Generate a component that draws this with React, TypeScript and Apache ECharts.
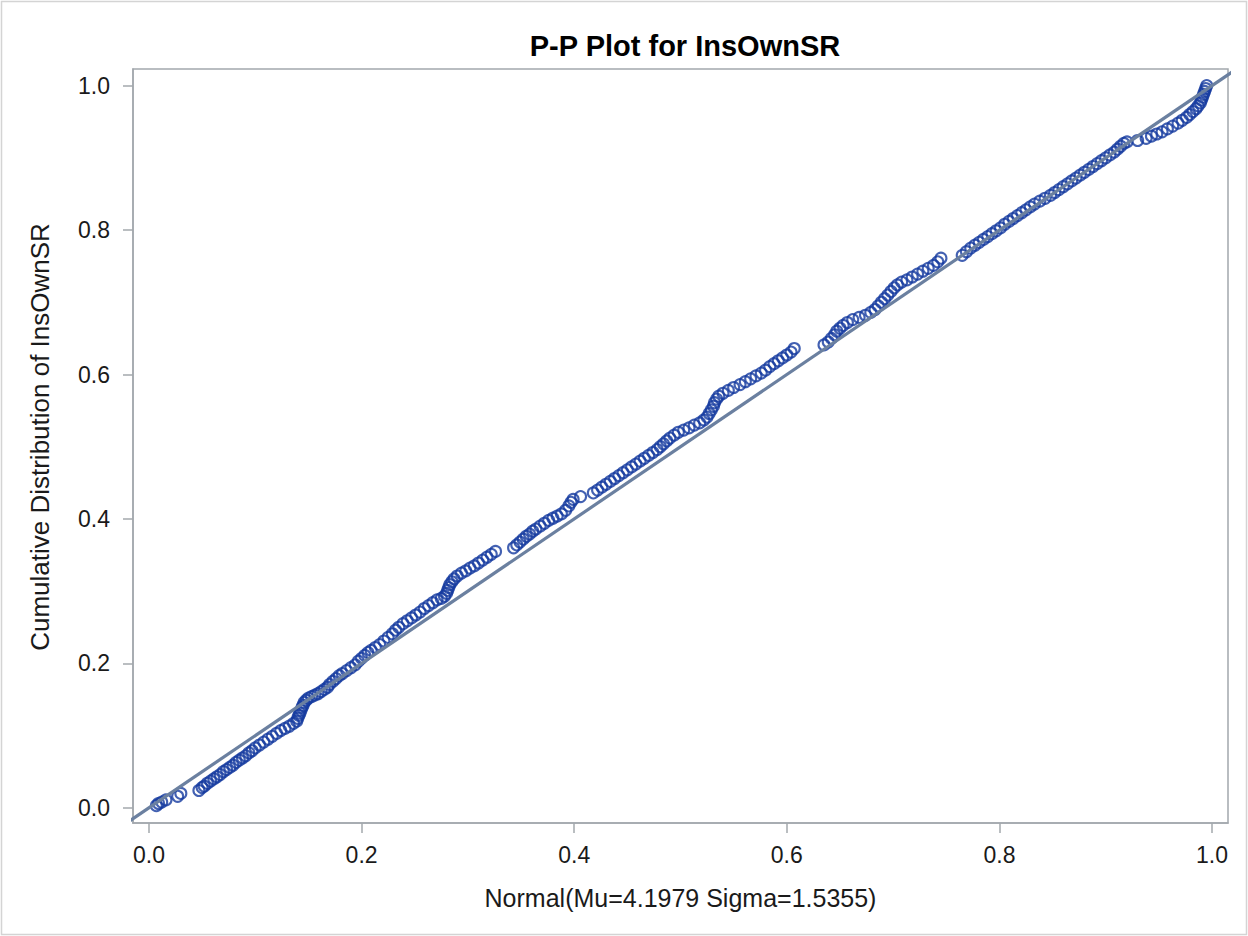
import React, { useEffect, useRef } from "react";
import * as echarts from "echarts";

// P-P plot of InsOwnSR against a fitted normal distribution.
// Each pair is [theoretical CDF, empirical CDF].
const ppLow: [number, number][] = [
  [0.007, 0.003], [0.009, 0.006], [0.012, 0.008], [0.016, 0.011], [0.027, 0.016], [0.030, 0.020],
  [0.047, 0.024], [0.050, 0.028], [0.052, 0.030],
  [0.055, 0.034], [0.058, 0.037], [0.061, 0.040], [0.064, 0.043], [0.067, 0.046], [0.070, 0.050],
  [0.073, 0.053], [0.076, 0.056], [0.079, 0.059], [0.082, 0.063], [0.085, 0.066], [0.088, 0.069],
  [0.091, 0.072], [0.094, 0.076], [0.097, 0.079], [0.100, 0.083], [0.104, 0.087], [0.108, 0.091],
  [0.112, 0.095], [0.116, 0.099], [0.120, 0.103], [0.124, 0.107], [0.128, 0.110], [0.132, 0.113],
  [0.136, 0.117], [0.139, 0.120],
  [0.140, 0.124], [0.141, 0.128], [0.142, 0.131], [0.143, 0.135], [0.144, 0.139], [0.145, 0.142],
  [0.146, 0.146], [0.148, 0.149],
];

const ppMidLow: [number, number][] = [
  [0.150, 0.152], [0.153, 0.154], [0.156, 0.156], [0.159, 0.158], [0.162, 0.161], [0.165, 0.164],
  [0.168, 0.167], [0.170, 0.171], [0.173, 0.175], [0.176, 0.179], [0.179, 0.183], [0.182, 0.186],
  [0.186, 0.190], [0.190, 0.194], [0.194, 0.198], [0.197, 0.203], [0.200, 0.207], [0.203, 0.211],
  [0.206, 0.215], [0.209, 0.218], [0.213, 0.222], [0.217, 0.226], [0.221, 0.231], [0.225, 0.236],
  [0.229, 0.241], [0.232, 0.246], [0.235, 0.250], [0.239, 0.255], [0.243, 0.259], [0.247, 0.263],
  [0.251, 0.267], [0.255, 0.271], [0.259, 0.276], [0.263, 0.280], [0.267, 0.284], [0.271, 0.288],
  [0.275, 0.290], [0.278, 0.293], [0.280, 0.297], [0.281, 0.301], [0.282, 0.305], [0.283, 0.309],
  [0.285, 0.313], [0.287, 0.317], [0.290, 0.321], [0.294, 0.325], [0.298, 0.328], [0.302, 0.332],
  [0.306, 0.335], [0.310, 0.339], [0.314, 0.343], [0.318, 0.347], [0.322, 0.351], [0.326, 0.355],
  [0.343, 0.360], [0.346, 0.364], [0.349, 0.368], [0.352, 0.372], [0.355, 0.376], [0.358, 0.379],
  [0.361, 0.383], [0.364, 0.386], [0.368, 0.390], [0.372, 0.394], [0.376, 0.398], [0.380, 0.401],
  [0.384, 0.404], [0.388, 0.407], [0.392, 0.412], [0.395, 0.418], [0.397, 0.423], [0.399, 0.427],
];

const ppMidHigh: [number, number][] = [
  [0.406, 0.431], [0.418, 0.436], [0.422, 0.440], [0.426, 0.444], [0.430, 0.448], [0.434, 0.452],
  [0.438, 0.456], [0.442, 0.460], [0.446, 0.464], [0.450, 0.468], [0.454, 0.472], [0.458, 0.476],
  [0.462, 0.480], [0.466, 0.484], [0.470, 0.488], [0.474, 0.492], [0.478, 0.496], [0.481, 0.500],
  [0.484, 0.504], [0.487, 0.508], [0.490, 0.512], [0.494, 0.516], [0.498, 0.520], [0.503, 0.523],
  [0.508, 0.526], [0.513, 0.530], [0.518, 0.533], [0.522, 0.537], [0.525, 0.541], [0.527, 0.546],
  [0.529, 0.551], [0.531, 0.556], [0.532, 0.561], [0.534, 0.566], [0.536, 0.570],
  [0.540, 0.574], [0.545, 0.578], [0.550, 0.582], [0.556, 0.586], [0.561, 0.590], [0.566, 0.594],
  [0.571, 0.598], [0.576, 0.602], [0.580, 0.606], [0.584, 0.611], [0.588, 0.615], [0.592, 0.619],
  [0.596, 0.623], [0.600, 0.627], [0.604, 0.631], [0.607, 0.636],
  [0.635, 0.641], [0.639, 0.645], [0.642, 0.650], [0.645, 0.655], [0.647, 0.660], [0.650, 0.664],
  [0.653, 0.668], [0.657, 0.672], [0.662, 0.676], [0.668, 0.679], [0.674, 0.682], [0.679, 0.686],
  [0.683, 0.690], [0.686, 0.695], [0.689, 0.700], [0.692, 0.705], [0.695, 0.710], [0.698, 0.715],
  [0.701, 0.720], [0.704, 0.724], [0.708, 0.728], [0.713, 0.731], [0.718, 0.735], [0.723, 0.739],
  [0.728, 0.743], [0.733, 0.747], [0.738, 0.751], [0.742, 0.756], [0.745, 0.761],
];

const ppHigh: [number, number][] = [
  [0.765, 0.765], [0.769, 0.770], [0.773, 0.775], [0.777, 0.779], [0.781, 0.783], [0.785, 0.787],
  [0.789, 0.791], [0.793, 0.795], [0.797, 0.799], [0.801, 0.803], [0.805, 0.808], [0.809, 0.812],
  [0.813, 0.816], [0.817, 0.820], [0.821, 0.824], [0.825, 0.828], [0.829, 0.832], [0.833, 0.836],
  [0.838, 0.840], [0.843, 0.844], [0.848, 0.848], [0.852, 0.852], [0.856, 0.856], [0.860, 0.860],
  [0.864, 0.864], [0.868, 0.868], [0.872, 0.872], [0.876, 0.876], [0.880, 0.880], [0.884, 0.884],
  [0.888, 0.888], [0.892, 0.892], [0.896, 0.896], [0.900, 0.900], [0.904, 0.904], [0.908, 0.908],
  [0.911, 0.912], [0.914, 0.916], [0.917, 0.920], [0.920, 0.922],
  [0.930, 0.924], [0.938, 0.927], [0.943, 0.930], [0.948, 0.933], [0.953, 0.936], [0.958, 0.940],
  [0.963, 0.944], [0.968, 0.948], [0.972, 0.952], [0.976, 0.956], [0.979, 0.960], [0.982, 0.964],
  [0.985, 0.968], [0.987, 0.972], [0.989, 0.976], [0.990, 0.980], [0.991, 0.984], [0.992, 0.988],
  [0.993, 0.992], [0.994, 0.996], [0.995, 1.000],
];

// Diagonal reference line (perfect fit), spanning past the axis range and clipped.
const refLine: [number, number][] = [[-0.05, -0.05], [1.05, 1.05]];

const tickValues = [0, 0.2, 0.4, 0.6, 0.8, 1.0];

const FONT = "'Liberation Sans', Arial, sans-serif";
const TEXT = "#1a1a1a";
const FRAME = "#a3a8ad";
const MARKER = "#143a9f";
const REF = "#6b80a0";

export default function App() {
  const ref = useRef<HTMLDivElement>(null);

  useEffect(() => {
    if (!ref.current) return;
    const chart = echarts.init(ref.current, undefined, { renderer: "svg" });
    const points = [...ppLow, ...ppMidLow, ...ppMidHigh, ...ppHigh];

    const axisLine = { show: true, onZero: false, lineStyle: { color: FRAME, width: 1.5 } };
    const axisTick = {
      show: true,
      inside: false,
      length: 10,
      customValues: tickValues,
      lineStyle: { color: FRAME, width: 1.5 },
    };
    const labelStyle = {
      customValues: tickValues,
      formatter: (v: number) => v.toFixed(1),
      color: TEXT,
      fontFamily: FONT,
      fontSize: 23,
    };

    chart.setOption({
      animation: false,
      backgroundColor: "#ffffff",
      title: {
        text: "P-P Plot for InsOwnSR",
        left: 680,
        top: 26,
        textAlign: "center",
        textStyle: { fontFamily: FONT, fontSize: 29, fontWeight: "bold", color: "#000000" },
      },
      graphic: [
        {
          type: "rect",
          shape: { x: 1.5, y: 1.5, width: 1245, height: 933 },
          style: { fill: "none", stroke: "#d4d4d4", lineWidth: 1.5 },
          silent: true,
        },
      ],
      grid: {
        left: 133,
        right: 20,
        top: 69,
        bottom: 113,
        show: true,
        borderColor: FRAME,
        borderWidth: 1.5,
        backgroundColor: "transparent",
      },
      xAxis: {
        type: "value",
        min: -0.015,
        max: 1.015,
        axisLine,
        axisTick,
        axisLabel: { ...labelStyle, margin: 20 },
        splitLine: { show: false },
        name: "Normal(Mu=4.1979 Sigma=1.5355)",
        nameLocation: "middle",
        nameGap: 62,
        nameTextStyle: { color: TEXT, fontFamily: FONT, fontSize: 25 },
      },
      yAxis: {
        type: "value",
        min: -0.021,
        max: 1.023,
        axisLine,
        axisTick,
        axisLabel: { ...labelStyle, margin: 23 },
        splitLine: { show: false },
        name: "Cumulative Distribution of InsOwnSR",
        nameLocation: "middle",
        nameGap: 80,
        nameTextStyle: {
          color: TEXT,
          fontFamily: FONT,
          fontSize: 26,
          padding: [0, 0, 0, 18],
        },
      },
      series: [
        {
          type: "scatter",
          data: points,
          symbol: "circle",
          symbolSize: 11,
          itemStyle: { color: "rgba(0,0,0,0)", borderColor: MARKER, borderWidth: 2.1 },
          z: 2,
        },
        {
          type: "line",
          data: refLine,
          showSymbol: false,
          symbol: "none",
          clip: true,
          lineStyle: { color: REF, width: 3.2 },
          z: 3,
        },
      ],
    });

    return () => chart.dispose();
  }, []);

  return (
    <div
      ref={ref}
      style={{ position: "absolute", left: 0, top: 0, width: 1248, height: 936 }}
    />
  );
}
